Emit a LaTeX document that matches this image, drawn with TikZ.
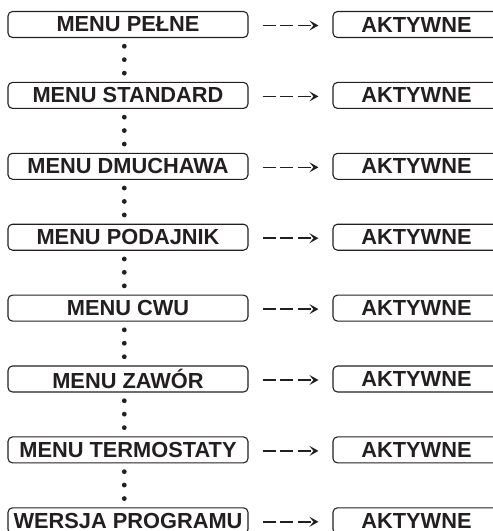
\documentclass[tikz,border=0pt]{standalone}
\usepackage{fontspec}
\setmainfont{Liberation Sans}
\usetikzlibrary{arrows.meta,decorations.markings}
\definecolor{ink}{RGB}{35,31,32}
\tikzset{
  menubox/.style={draw=ink, line width=1.1pt, rounded corners=4.5pt, minimum width=240pt, minimum height=26pt, inner sep=0pt, text=ink, font=\fontsize{21.8}{21.8}\selectfont\bfseries},
  statebox/.style={menubox, minimum width=167pt},
  dasharrow/.style={draw=ink, line width=1.5pt, dash pattern=on 13pt off 4.5pt, -{Stealth[length=9pt,width=10pt,inset=4pt]}},
  dotline/.style={draw=none, decoration={markings,
     mark=at position 8.2pt with {\fill[ink] (0,0) circle (2.4pt);},
     mark=at position 21.6pt with {\fill[ink] (0,0) circle (2.4pt);},
     mark=at position 35.1pt with {\fill[ink] (0,0) circle (2.4pt);}}, postaction={decorate}}
}
\begin{document}
\begin{tikzpicture}[x=1pt,y=1pt]
\clip (0,0) rectangle (493,-531);
\useasboundingbox (0,0) rectangle (493,-531);
\foreach \i/\t in {0/MENU PEŁNE,1/MENU STANDARD,2/MENU DMUCHAWA,3/MENU PODAJNIK,4/MENU CWU,5/MENU ZAWÓR,6/MENU TERMOSTATY,7/WERSJA PROGRAMU}{
  \node[menubox] (m\i) at (128,{-(24.5+70.9*\i)}) {\t};
  \node[statebox] (a\i) at (416.5,{-(24.5+70.9*\i)}) {AKTYWNE};
  \draw[dasharrow] ([xshift=14pt,yshift=-1pt]m\i.east) -- ([xshift=-14pt,yshift=-1pt]a\i.west);
}
\foreach \i [evaluate=\i as \j using int(\i+1)] in {0,...,6}{
  \path[dotline] ([xshift=-3.7pt]m\i.south) -- ([xshift=-3.7pt]m\j.north);
}
\end{tikzpicture}
\end{document}
